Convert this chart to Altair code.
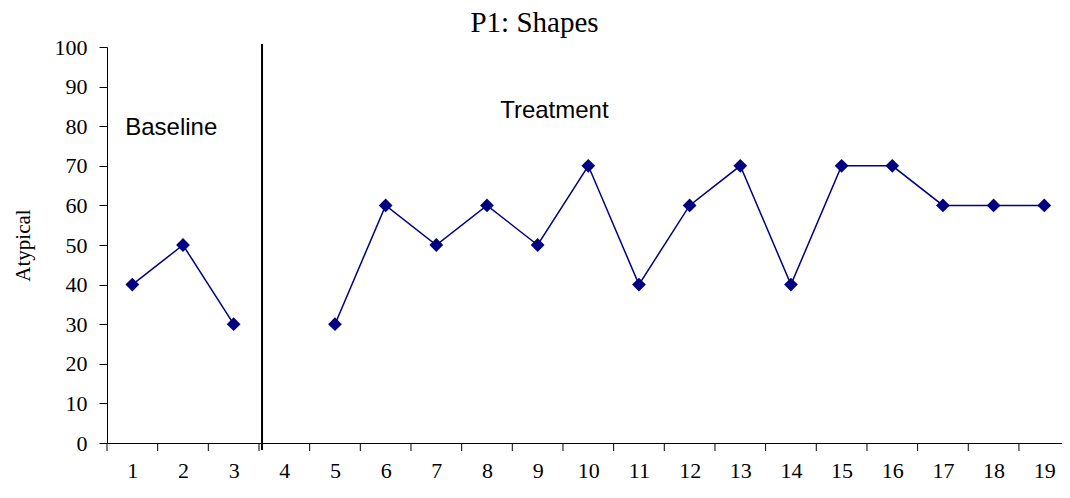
import altair as alt
import pandas as pd

baseline_sessions = [1, 2, 3]
baseline_values = [40, 50, 30]
treatment_sessions = list(range(5, 20))
treatment_values = [30, 60, 50, 60, 50, 70, 40, 60, 70, 40, 70, 70, 60, 60, 60]
session_labels = list(range(1, 20))
session_bounds = [i + 0.5 for i in range(0, 19)]
y_ticks = list(range(0, 101, 10))
phase_change = [3.56]
annotations = ["Baseline", "Treatment"]
ann_x = [0.86, 8.26]
ann_y = [79.5, 83.8]
chart_title = ["P1: Shapes"]

NAVY = "#000080"
W, H = 955, 396

df = pd.DataFrame({
    "session": baseline_sessions + treatment_sessions,
    "value": baseline_values + treatment_values,
    "phase": ["Baseline"] * len(baseline_sessions) + ["Treatment"] * len(treatment_sessions),
})
phase_df = pd.DataFrame({"x": phase_change})
bounds_df = pd.DataFrame({"x": session_bounds})
ann_df = pd.DataFrame({"label": annotations, "x": ann_x, "y": ann_y})
title_df = pd.DataFrame({"t": chart_title})

xscale = alt.Scale(domain=[0.5, 19.35], nice=False, zero=False)
yscale = alt.Scale(domain=[0, 100], nice=False)

x_axis = alt.Axis(values=session_labels, ticks=False, labelFont="Liberation Serif",
                  labelFontSize=22, labelPadding=17, grid=False, title=None,
                  domainColor="black", labelColor="black", orient="bottom", labelFlush=False,
                  labelOverlap=False)
y_axis = alt.Axis(values=y_ticks, tickSize=8, tickColor="black", labelFont="Liberation Serif",
                  labelFontSize=22, labelPadding=12, grid=False, title="Atypical",
                  titleFont="Liberation Serif", titleFontSize=21, titleFontWeight="normal",
                  titleColor="black", titlePadding=21, domainColor="black", labelColor="black",
                  labelOverlap=False, labelFlush=False)

base = alt.Chart(df)
line = base.mark_line(color=NAVY, strokeWidth=1.5).encode(
    x=alt.X("session:Q", scale=xscale, axis=x_axis),
    y=alt.Y("value:Q", scale=yscale, axis=y_axis),
    detail="phase:N",
)
points = base.mark_point(shape="diamond", filled=True, size=190, color=NAVY, opacity=1).encode(
    x=alt.X("session:Q", scale=xscale, axis=x_axis),
    y=alt.Y("value:Q", scale=yscale, axis=y_axis),
)

bound_ticks = alt.Chart(bounds_df).mark_rule(color="black", strokeWidth=1, clip=False).encode(
    x=alt.X("x:Q", scale=xscale, axis=x_axis),
    y=alt.value(H),
    y2=alt.value(H + 8),
)

rule = alt.Chart(phase_df).mark_rule(color="black", strokeWidth=2, clip=False).encode(
    x=alt.X("x:Q", scale=xscale, axis=x_axis),
    y=alt.value(-3),
    y2=alt.value(H + 7),
)

text = alt.Chart(ann_df).mark_text(align="left", baseline="middle", font="Liberation Sans",
                                    fontSize=24, color="black").encode(
    x=alt.X("x:Q", scale=xscale, axis=x_axis),
    y=alt.Y("y:Q", scale=yscale, axis=y_axis),
    text="label:N",
)

title = alt.Chart(title_df).mark_text(align="center", baseline="alphabetic",
                                       font="Liberation Serif", fontSize=29,
                                       color="black").encode(
    x=alt.value(W / 2 - 50),
    y=alt.value(-15),
    text="t:N",
)

chart = alt.layer(line, points, text, bound_ticks, rule, title).properties(
    width=W, height=H,
    autosize=alt.AutoSizeParams(type="none"),
    padding={"left": 99, "top": 39, "right": 0, "bottom": 50},
).configure(
    background="white",
    axis=alt.AxisConfig(grid=False),
).configure_view(
    stroke=None, strokeWidth=0
).configure_axisTop(
    domain=False, ticks=False, labels=False, grid=False
)

chart.save("out.html", embed_options={"renderer": "svg", "actions": False})
